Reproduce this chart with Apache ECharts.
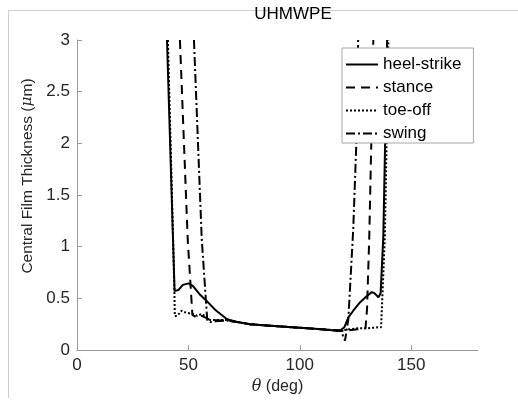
<!DOCTYPE html>
<html>
<head>
<meta charset="utf-8">
<script src="https://cdn.jsdelivr.net/npm/echarts@6/dist/echarts.min.js"></script>
<style>html,body{margin:0;padding:0;background:#fff;}#c{width:518px;height:407px;}</style>
</head>
<body>
<div id="c"></div>
<script>
// ---- data (theta in degrees, central film thickness in micrometres) ----
const seriesNames = ['heel-strike', 'stance', 'toe-off', 'swing'];
const xTicks = [0, 50, 100, 150];
const yTicks = [0, 0.5, 1, 1.5, 2, 2.5, 3];

const heelStrikeTheta = [40.4, 43.8, 45.5, 47.5, 50, 52, 55, 58.2, 62, 67.2, 72, 77.7, 85, 90, 100, 110, 118, 120, 121.8, 124, 127, 130, 132.3, 133.5, 135.3, 136.3, 137.5, 139.2];
const heelStrikeH     = [3, 0.57, 0.58, 0.63, 0.645, 0.62, 0.54, 0.475, 0.39, 0.3, 0.27, 0.25, 0.238, 0.23, 0.215, 0.2, 0.185, 0.22, 0.315, 0.38, 0.46, 0.52, 0.56, 0.55, 0.51, 0.55, 1.1, 3];

const stanceTheta = [46.2, 49.7, 51.8, 54, 56, 60, 67.2, 72, 77.7, 85, 90, 100, 110, 118, 122, 126, 129.5, 130.2, 131.2, 132.2, 133];
const stanceH     = [3, 1.07, 0.34, 0.31, 0.33, 0.29, 0.285, 0.27, 0.25, 0.238, 0.23, 0.215, 0.2, 0.185, 0.19, 0.2, 0.21, 0.4, 1.1, 2.1, 3];

const toeOffTheta = [40.8, 43.7, 43.9, 45, 47, 49, 51.8, 54, 56, 59.7, 63, 67.2, 72, 77.7, 85, 90, 100, 110, 118, 122, 126, 130, 135.3, 136.5, 138.2, 139.8];
const toeOffH     = [3, 0.6, 0.33, 0.33, 0.38, 0.36, 0.35, 0.33, 0.35, 0.29, 0.29, 0.29, 0.27, 0.25, 0.238, 0.23, 0.215, 0.2, 0.185, 0.2, 0.21, 0.21, 0.22, 0.22, 1.1, 3];

const swingTheta = [52.5, 56, 58.5, 60, 63, 67.2, 72, 77.7, 85, 90, 100, 110, 118.4, 120.3, 121.8, 124, 125.6, 126.2];
const swingH     = [3, 1.07, 0.28, 0.27, 0.28, 0.285, 0.27, 0.25, 0.238, 0.23, 0.215, 0.2, 0.19, 0.09, 0.3, 1.17, 2.13, 3];

function pairs(xs, ys) { return xs.map((x, i) => [x, ys[i]]); }

const FONT = 'Liberation Sans, Arial, Helvetica, sans-serif';
const TXT = '#262626';
const AX = '#9a9a9a';

const styles = [
  { type: 'solid', width: 2 },
  { type: [9, 6], width: 2 },
  { type: [2, 2], width: 2 },
  { type: [9, 3, 2, 3], width: 2 }
];
const datasets = [
  pairs(heelStrikeTheta, heelStrikeH),
  pairs(stanceTheta, stanceH),
  pairs(toeOffTheta, toeOffH),
  pairs(swingTheta, swingH)
];

const chart = echarts.init(document.getElementById('c'), null, { renderer: 'canvas' });
chart.setOption({
  animation: false,
  backgroundColor: '#fff',
  textStyle: { fontFamily: FONT },
  title: {
    text: 'UHMWPE', left: 288, top: 1, textAlign: 'center',
    textStyle: { fontFamily: FONT, fontWeight: 'normal', fontSize: 17, color: '#000' }
  },
  graphic: [
    { type: 'line', shape: { x1: 8, y1: 10.5, x2: 518, y2: 10.5 }, style: { stroke: '#cfcfcf', lineWidth: 1 }, z: -1 },
    { type: 'line', shape: { x1: 8.5, y1: 10, x2: 8.5, y2: 398 }, style: { stroke: '#cfcfcf', lineWidth: 1 }, z: -1 }
  ],
  legend: {
    orient: 'vertical', left: 342, top: 48, z: 50,
    data: seriesNames,
    itemWidth: 32, itemHeight: 14, itemGap: 6,
    padding: [8, 12, 1, 3],
    itemStyle: { color: 'rgba(0,0,0,0)', borderWidth: 0, opacity: 0 },
    backgroundColor: '#fff', borderColor: '#a8a8a8', borderWidth: 1,
    textStyle: { fontFamily: FONT, fontSize: 17, color: '#000' }
  },
  grid: { left: 77, right: 40, top: 40, bottom: 57, containLabel: false },
  xAxis: {
    type: 'value', min: 0, max: 180, interval: 50,
    name: '{i|θ} (deg)', nameLocation: 'middle', nameGap: 28,
    nameTextStyle: { fontFamily: FONT, fontSize: 16, color: TXT,
      rich: { i: { fontStyle: 'italic', fontFamily: 'DejaVu Serif, serif', fontSize: 16, color: TXT } } },
    axisLine: { show: true, lineStyle: { color: AX, width: 1 } },
    axisTick: { show: true, inside: true, length: 5, lineStyle: { color: AX }, customValues: xTicks },
    axisLabel: { fontFamily: FONT, fontSize: 17, color: TXT, margin: 7, customValues: xTicks },
    splitLine: { show: false }
  },
  yAxis: {
    type: 'value', min: 0, max: 3, interval: 0.5,
    name: 'Central Film Thickness ({i|μ}m)', nameLocation: 'middle', nameGap: 38,
    nameTextStyle: { fontFamily: FONT, fontSize: 15.5, color: TXT, padding: [0, 0, 0, 38],
      rich: { i: { fontStyle: 'italic', fontFamily: 'DejaVu Serif, serif', fontSize: 15.5, color: TXT } } },
    axisLine: { show: true, lineStyle: { color: AX, width: 1 } },
    axisTick: { show: true, inside: true, length: 5, lineStyle: { color: AX }, customValues: yTicks },
    axisLabel: { fontFamily: FONT, fontSize: 17, color: TXT, margin: 7, customValues: yTicks },
    splitLine: { show: false }
  },
  series: seriesNames.map((n, i) => ({
    name: n, type: 'line', data: datasets[i], symbol: 'none', showSymbol: false,
    clip: true, z: 2,
    itemStyle: { color: '#000' },
    lineStyle: { color: '#000', width: styles[i].width, type: styles[i].type }
  }))
});
</script>
</body>
</html>
